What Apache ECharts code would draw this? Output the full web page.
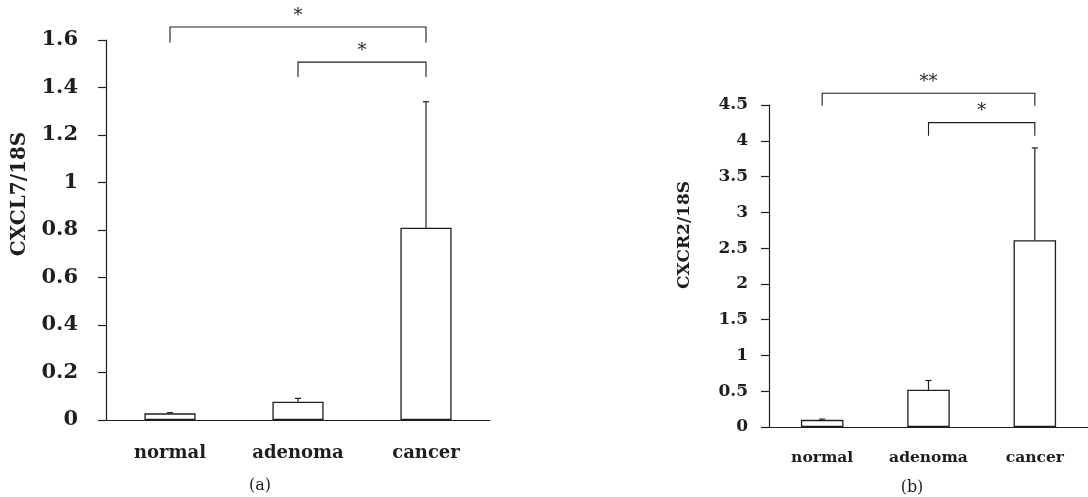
<!DOCTYPE html>
<html>
<head>
<meta charset="utf-8">
<script src="https://cdn.jsdelivr.net/npm/echarts@6/dist/echarts.min.js"></script>
<style>
html,body{margin:0;padding:0;background:#fff;}
#c{width:1088px;height:497px;}
</style>
</head>
<body>
<div id="c"></div>
<script>
// ---- data ----
var categories = ['normal', 'adenoma', 'cancer'];
// panel (a) CXCL7/18S
var meansA = [0.028, 0.077, 0.81];
var errorsA = [0.003, 0.014, 0.53];
var yTicksA = {min: 0, max: 1.6, interval: 0.2};
// brackets: [fromIndex, toIndex, barLevel, legEndLevel, label]
var bracketsA = [[0, 2, 1.655, 1.59, '*'], [1, 2, 1.507, 1.444, '*']];
// panel (b) CXCR2/18S
var meansB = [0.10, 0.52, 2.61];
var errorsB = [0.01, 0.13, 1.29];
var yTicksB = {min: 0, max: 4.5, interval: 0.5};
var bracketsB = [[0, 2, 4.665, 4.49, '**'], [1, 2, 4.254, 4.07, '*']];

var FONT = '"DejaVu Serif", "Liberation Serif", serif';
var INK = '#1e1e1e';

function errData(means, errs) {
  return means.map(function (m, i) { return [i, m, errs[i]]; });
}
function errRender(params, api) {
  var x = api.value(0), v = api.value(1), e = api.value(2);
  var p0 = api.coord([x, v]), p1 = api.coord([x, v + e]);
  return {
    type: 'group',
    children: [
      {type: 'line', shape: {x1: p0[0], y1: p0[1], x2: p1[0], y2: p1[1]}, style: {stroke: INK, lineWidth: 1.2}},
      {type: 'line', shape: {x1: p1[0] - 3, y1: p1[1], x2: p1[0] + 3, y2: p1[1]}, style: {stroke: INK, lineWidth: 1.2}}
    ]
  };
}
var bracketLabels = {};
function brRender(params, api) {
  var a = api.value(0), b = api.value(1), top = api.value(2), leg = api.value(3);
  var label = bracketLabels[params.seriesIndex][params.dataIndex];
  var pa = api.coord([a, top]), pb = api.coord([b, top]);
  var la = api.coord([a, leg]), lb = api.coord([b, leg]);
  return {
    type: 'group',
    children: [
      {type: 'polyline', shape: {points: [[la[0], la[1]], [pa[0], pa[1]], [pb[0], pb[1]], [lb[0], lb[1]]]},
        style: {stroke: INK, lineWidth: 1.1, fill: null}},
      {type: 'text', x: (pa[0] + pb[0]) / 2, y: pa[1] - 2,
        style: {text: label, fill: INK, font: '18px ' + FONT, align: 'center', verticalAlign: 'bottom'}}
    ]
  };
}
bracketLabels[4] = bracketsA.map(function (r) { return r[4]; });
bracketLabels[5] = bracketsB.map(function (r) { return r[4]; });

function xAxis(gi, size, margin) {
  return {
    type: 'category', gridIndex: gi, data: categories,
    axisLine: {lineStyle: {color: INK, width: 1.2}},
    axisTick: {length: 8, lineStyle: {color: INK, width: 1.2}},
    axisLabel: {color: INK, fontFamily: FONT, fontWeight: 'bold', fontSize: size, margin: margin}
  };
}
function yAxis(gi, t, size, margin) {
  return {
    type: 'value', gridIndex: gi, min: t.min, max: t.max, interval: t.interval,
    splitLine: {show: false},
    axisLine: {show: true, lineStyle: {color: INK, width: 1.2}},
    axisTick: {show: true, length: 8, lineStyle: {color: INK, width: 1.2}},
    axisLabel: {color: INK, fontFamily: FONT, fontWeight: 'bold', fontSize: size, margin: margin}
  };
}

var chart = echarts.init(document.getElementById('c'), null, {renderer: 'canvas'});
chart.setOption({
  animation: false,
  backgroundColor: '#fff',
  grid: [
    {left: 106, top: 40, width: 384, height: 380},
    {left: 769, top: 105, width: 320, height: 322}
  ],
  xAxis: [xAxis(0, 18, 24), xAxis(1, 15.5, 23)],
  yAxis: [yAxis(0, yTicksA, 21, 28), yAxis(1, yTicksB, 17, 21)],
  graphic: [
    {type: 'text', x: 20, y: 194, rotation: Math.PI / 2, style: {text: 'CXCL7/18S', fill: INK, font: 'bold 20px ' + FONT, align: 'center', verticalAlign: 'middle'}},
    {type: 'text', x: 685, y: 235, rotation: Math.PI / 2, style: {text: 'CXCR2/18S', fill: INK, font: 'bold 17px ' + FONT, align: 'center', verticalAlign: 'middle'}},
    {type: 'text', x: 260, y: 486, style: {text: '(a)', fill: INK, font: '16px ' + FONT, align: 'center', verticalAlign: 'middle'}},
    {type: 'text', x: 912, y: 488, style: {text: '(b)', fill: INK, font: '16px ' + FONT, align: 'center', verticalAlign: 'middle'}}
  ],
  series: [
    {type: 'bar', xAxisIndex: 0, yAxisIndex: 0, data: meansA, barWidth: '40%',
      itemStyle: {color: '#fff', borderColor: INK, borderWidth: 1.3}},
    {type: 'bar', xAxisIndex: 1, yAxisIndex: 1, data: meansB, barWidth: '40%',
      itemStyle: {color: '#fff', borderColor: INK, borderWidth: 1.3}},
    {type: 'custom', xAxisIndex: 0, yAxisIndex: 0, data: errData(meansA, errorsA), renderItem: errRender, clip: false, z: 3,
      encode: {x: 0, y: 1}},
    {type: 'custom', xAxisIndex: 1, yAxisIndex: 1, data: errData(meansB, errorsB), renderItem: errRender, clip: false, z: 3,
      encode: {x: 0, y: 1}},
    {type: 'custom', xAxisIndex: 0, yAxisIndex: 0, data: bracketsA.map(function (r) { return r.slice(0, 4); }), renderItem: brRender, clip: false,
      encode: {x: 0, y: 3}},
    {type: 'custom', xAxisIndex: 1, yAxisIndex: 1, data: bracketsB.map(function (r) { return r.slice(0, 4); }), renderItem: brRender, clip: false,
      encode: {x: 0, y: 3}}
  ]
});
</script>
</body>
</html>
